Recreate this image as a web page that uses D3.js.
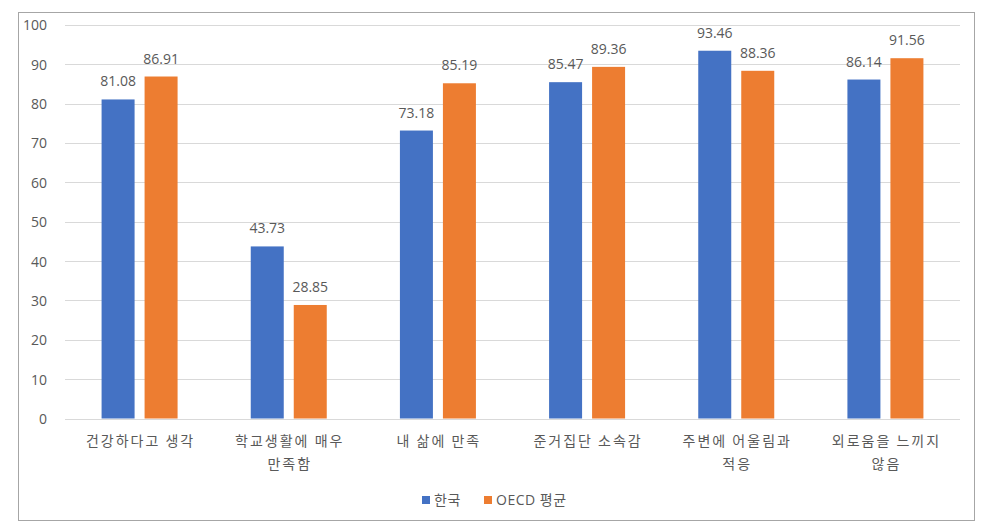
<!DOCTYPE html>
<html><head><meta charset="utf-8">
<script src="https://cdn.jsdelivr.net/npm/d3@7"></script>
<style>
html,body{margin:0;padding:0;background:#fff;}
svg text{font-family:"Open Sans","Noto Sans CJK KR",sans-serif;fill:#595959;}
</style></head>
<body>
<svg id="chart" width="991" height="525"></svg>
<script>
const categories = [
  ["건강하다고 생각"],
  ["학교생활에 매우","만족함"],
  ["내 삶에 만족"],
  ["준거집단 소속감"],
  ["주변에 어울림과","적응"],
  ["외로움을 느끼지","않음"]
];
const seriesNames = ["한국","OECD 평균"];
const korea = [81.08, 43.73, 73.18, 85.47, 93.46, 86.14];
const oecd  = [86.91, 28.85, 85.19, 89.36, 88.36, 91.56];
const yTicks = [0,10,20,30,40,50,60,70,80,90,100];
const colors = ["#4472C4","#ED7D31"];

(function(){
const svg = d3.select("#chart");
svg.append("rect").attr("x",18.5).attr("y",12.5).attr("width",956).attr("height",508)
  .attr("fill","#fff").attr("stroke","#a6a6a6").attr("stroke-width",1);

const pL=65, pR=960, pT=25, pB=418.5;
const x = d3.scaleBand().domain(d3.range(categories.length)).range([pL,pR]).paddingInner(0).paddingOuter(0);
const y = d3.scaleLinear().domain([0,100]).range([pB,pT]);
const barW = 33, off = 21.5;

svg.append("g").selectAll("line").data(yTicks).join("line")
  .attr("x1",pL).attr("x2",pR)
  .attr("y1",d=>Math.round(y(d))+0.5).attr("y2",d=>Math.round(y(d))+0.5)
  .attr("stroke","#d9d9d9").attr("stroke-width",1);

const yAxis = d3.axisLeft(y).tickValues(yTicks).tickSize(0).tickPadding(0);
const ya = svg.append("g").attr("transform","translate(47,0)").call(yAxis);
ya.select(".domain").remove();
ya.selectAll("text").attr("font-size",14).attr("fill","#595959")
  .style("font-family","'Open Sans',sans-serif").attr("dy","0.35em");

const data = [korea, oecd];
data.forEach((vals,si)=>{
  const g = svg.append("g");
  g.selectAll("rect").data(vals).join("rect")
    .attr("x",(d,i)=>x(i)+x.bandwidth()/2+(si===0?-off:off)-barW/2)
    .attr("width",barW)
    .attr("y",d=>y(d)).attr("height",d=>pB-y(d))
    .attr("fill",colors[si]);
  g.selectAll("text").data(vals).join("text")
    .attr("x",(d,i)=>x(i)+x.bandwidth()/2+(si===0?-off:off))
    .attr("y",d=>y(d)-13)
    .attr("text-anchor","middle").attr("font-size",14)
    .text(d=>d.toFixed(2));
});

const cg = svg.append("g");
categories.forEach((lines,i)=>{
  const t = cg.append("text").attr("x",x(i)+x.bandwidth()/2).attr("y",446)
    .attr("text-anchor","middle").attr("font-size",14)
    .style("font-family","'Noto Sans CJK KR',sans-serif")
    .style("letter-spacing","2px");
  lines.forEach((l,j)=>{
    t.append("tspan").attr("x",x(i)+x.bandwidth()/2+1).attr("dy",j===0?0:23).text(l);
  });
});

const lg = svg.append("g");
const legX = [422, 484];
seriesNames.forEach((n,i)=>{
  lg.append("rect").attr("x",legX[i]).attr("y",496).attr("width",8).attr("height",8).attr("fill",colors[i]);
  lg.append("text").attr("x",legX[i]+12).attr("y",505).attr("font-size",14)
    .style("font-family","'Open Sans','Noto Sans CJK KR',sans-serif")
    .style("letter-spacing","0.5px")
    .text(n);
});
})();
</script>
</body></html>
